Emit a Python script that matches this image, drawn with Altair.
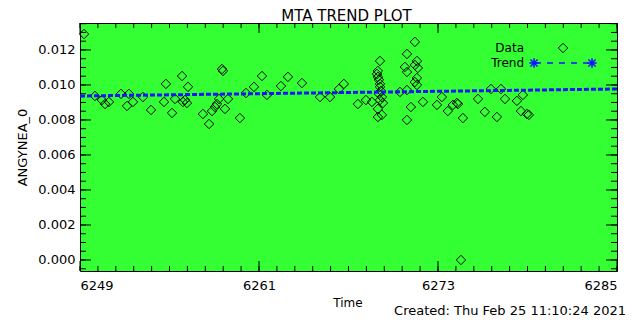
import altair as alt
import pandas as pd

# ---- data ----
data_time = [6249.27, 6250.00, 6250.47, 6250.68, 6250.94, 6251.75, 6252.15, 6252.28, 6252.55, 6253.22,
             6253.76, 6254.63, 6254.76, 6255.17, 6255.37, 6255.84, 6255.90, 6256.04, 6256.17, 6256.24,
             6257.24, 6257.65, 6257.85, 6258.05, 6258.18, 6258.32, 6258.52, 6258.58, 6258.72, 6258.92,
             6259.72, 6260.13, 6260.66, 6261.20, 6261.53, 6262.47, 6262.94, 6263.88, 6265.09, 6265.76,
             6266.36, 6266.69, 6267.63, 6268.17, 6268.57,
             6269.11, 6268.91, 6268.97, 6269.04, 6269.11, 6269.17, 6269.24, 6269.11, 6269.31, 6268.97,
             6269.24, 6268.97, 6268.97, 6269.11, 6269.04,
             6270.45, 6270.92, 6271.45, 6270.78, 6270.92, 6271.59, 6271.45, 6271.65, 6271.59, 6271.45,
             6271.59, 6270.92, 6271.18, 6270.92, 6271.99, 6272.93, 6273.26, 6273.66, 6274.00, 6274.27,
             6274.34, 6274.67, 6274.54, 6275.68, 6276.14, 6276.55, 6276.95, 6277.22, 6277.49, 6278.29,
             6278.56, 6278.69, 6278.96, 6279.09]
data_value = [0.01291, 0.00937, 0.00914, 0.00891, 0.00903, 0.00949, 0.00880, 0.00949, 0.00903, 0.00931,
              0.00857, 0.00903, 0.01006, 0.00840, 0.00920, 0.01051, 0.00903, 0.00914, 0.00897, 0.00989,
              0.00834, 0.00777, 0.00851, 0.00874, 0.00891, 0.00920, 0.01091, 0.01080, 0.00863, 0.00920,
              0.00811, 0.00954, 0.00989, 0.01051, 0.00943, 0.00994, 0.01046, 0.01011, 0.00931, 0.00931,
              0.00977, 0.01006, 0.00891, 0.00914, 0.00903,
              0.01137, 0.01063, 0.01046, 0.01029, 0.01006, 0.00966, 0.00931, 0.00914, 0.00897, 0.00863,
              0.00829, 0.00817, 0.01080, 0.00989, 0.00949,
              0.00960, 0.01177, 0.01246, 0.01103, 0.01074, 0.01137, 0.01114, 0.01097, 0.01040, 0.01017,
              0.01000, 0.00971, 0.00874, 0.00800, 0.00903, 0.00886, 0.00931, 0.00851, 0.00886, 0.00897,
              0.00891, 0.00811, 0.00000, 0.00920, 0.00846, 0.00977, 0.00817, 0.00977, 0.00920, 0.00909,
              0.00851, 0.00943, 0.00834, 0.00829]

trend_time = [6249, 6285]
trend_value = [0.00937, 0.00977]

x_major = [6249, 6261, 6273, 6285]
x_minor = [round(6249 + 1.2 * i, 2) for i in range(31)]
y_major = [0.000, 0.002, 0.004, 0.006, 0.008, 0.010, 0.012]
y_minor = [round(0.0005 * i, 4) for i in range(-1, 28)]

x_domain = [6249, 6285]
y_domain = [-0.00063, 0.01354]

title_text = "MTA TREND PLOT"
y_title = "ANGYNEA_0"
x_title = "Time"
created_text = "Created: Thu Feb 25 11:10:24 2021"
legend_labels = ["Data", "Trend"]

W, H = 537, 248
FONT = "DejaVu Sans"
GREEN = "#33ff33"
BLUE = "#1414ff"

pts = pd.DataFrame({"t": data_time, "v": data_value})
trend = pd.DataFrame({"t": trend_time, "v": trend_value})
xmaj = pd.DataFrame({"t": x_major})
xmin = pd.DataFrame({"t": x_minor})
ymaj = pd.DataFrame({"v": y_major})
ymin = pd.DataFrame({"v": y_minor})
leg_df = pd.DataFrame({"label": legend_labels, "row": [0, 1]})

xs = alt.Scale(domain=x_domain, nice=False, zero=False)
ys = alt.Scale(domain=y_domain, nice=False, zero=False)

# main layer with labelled axes
points = alt.Chart(pts).mark_point(shape="diamond", size=90, filled=False, color="black",
                                   strokeWidth=1, opacity=1).encode(
    x=alt.X("t:Q", scale=xs, axis=alt.Axis(
        orient="bottom", values=x_major, ticks=False, domain=False, grid=False, format="d",
        labelFont=FONT, labelFontSize=13, labelColor="black", labelPadding=8,
        title=x_title, titleFont=FONT, titleFontSize=12, titleFontWeight="normal",
        titleColor="black", titleX=W / 2 - 1, titleY=31, titleBaseline="middle")),
    y=alt.Y("v:Q", scale=ys, axis=alt.Axis(
        orient="left", values=y_major, ticks=False, domain=False, grid=False, format=".3f",
        labelFont=FONT, labelFontSize=13, labelColor="black", labelPadding=5,
        title=y_title, titleFont=FONT, titleFontSize=13, titleFontWeight="normal",
        titleColor="black", titleAngle=270, titleX=-58, titleY=H / 2, titleAlign="center",
        titleBaseline="middle")),
)

trend_line = alt.Chart(trend).mark_line(color=BLUE, strokeWidth=3, strokeDash=[5, 2]).encode(
    x=alt.X("t:Q", scale=xs, axis=None),
    y=alt.Y("v:Q", scale=ys, axis=None),
)


# inward tick marks on all four sides, placed through the shared scales
def xticks(df, y0, y1):
    return alt.Chart(df).mark_rule(color="black", strokeWidth=1).encode(
        x=alt.X("t:Q", scale=xs, axis=None), y=alt.value(y0), y2=alt.value(y1))


def yticks(df, x0, x1):
    return alt.Chart(df).mark_rule(color="black", strokeWidth=1).encode(
        y=alt.Y("v:Q", scale=ys, axis=None), x=alt.value(x0), x2=alt.value(x1))


ticks = [
    xticks(xmaj, H, H - 10), xticks(xmin, H, H - 5),
    xticks(xmaj, 0, 10), xticks(xmin, 0, 5),
    yticks(ymaj, 0, 11), yticks(ymin, 0, 6),
    yticks(ymaj, W, W - 11), yticks(ymin, W, W - 6),
]

# in-plot legend
ASTER = "M-1,0L1,0M0,-1L0,1M-0.75,-0.75L0.75,0.75M-0.75,0.75L0.75,-0.75"
leg_text1 = alt.Chart(leg_df).transform_filter("datum.row == 0").mark_text(
    align="right", baseline="middle", font=FONT, fontSize=12, color="black").encode(
    text="label:N", x=alt.value(444), y=alt.value(25))
leg_text2 = alt.Chart(leg_df).transform_filter("datum.row == 1").mark_text(
    align="right", baseline="middle", font=FONT, fontSize=12, color="black").encode(
    text="label:N", x=alt.value(444), y=alt.value(40))
leg_diamond = alt.Chart(leg_df).transform_filter("datum.row == 0").mark_point(
    shape="diamond", size=90, filled=False, color="black", strokeWidth=1, opacity=1).encode(
    x=alt.value(483), y=alt.value(25))
leg_dash = alt.Chart(leg_df).transform_filter("datum.row == 1").mark_rule(
    color=BLUE, strokeWidth=1.5, strokeDash=[6, 6]).encode(
    x=alt.value(455), x2=alt.value(511), y=alt.value(40))
leg_star1 = alt.Chart(leg_df).transform_filter("datum.row == 1").mark_point(
    shape=ASTER, size=90, color=BLUE, strokeWidth=1.5, opacity=1).encode(
    x=alt.value(454), y=alt.value(40))
leg_star2 = alt.Chart(leg_df).transform_filter("datum.row == 1").mark_point(
    shape=ASTER, size=90, color=BLUE, strokeWidth=1.5, opacity=1).encode(
    x=alt.value(512), y=alt.value(40))

title_mark = alt.Chart(leg_df).transform_filter("datum.row == 0").mark_text(
    align="center", baseline="middle", font=FONT, fontSize=15, color="black").encode(
    text=alt.value(title_text), x=alt.value(W / 2 - 2), y=alt.value(-7))

created = alt.Chart(leg_df).transform_filter("datum.row == 0").mark_text(
    align="right", baseline="middle", font=FONT, fontSize=13, color="black").encode(
    text=alt.value(created_text), x=alt.value(546), y=alt.value(288))

chart = alt.layer(
    points, trend_line, *ticks,
    leg_text1, leg_text2, leg_diamond, leg_dash, leg_star1, leg_star2, title_mark, created,
).resolve_axis(x="independent", y="independent").properties(
    width=W, height=H,
    autosize=alt.AutoSizeParams(type="none"),
    padding={"left": 72, "top": 15, "right": 15, "bottom": 52},
    background="white",
).configure_view(fill=GREEN, stroke="black", strokeWidth=1)

chart.save("out.html", embed_options={"renderer": "svg", "actions": False})
